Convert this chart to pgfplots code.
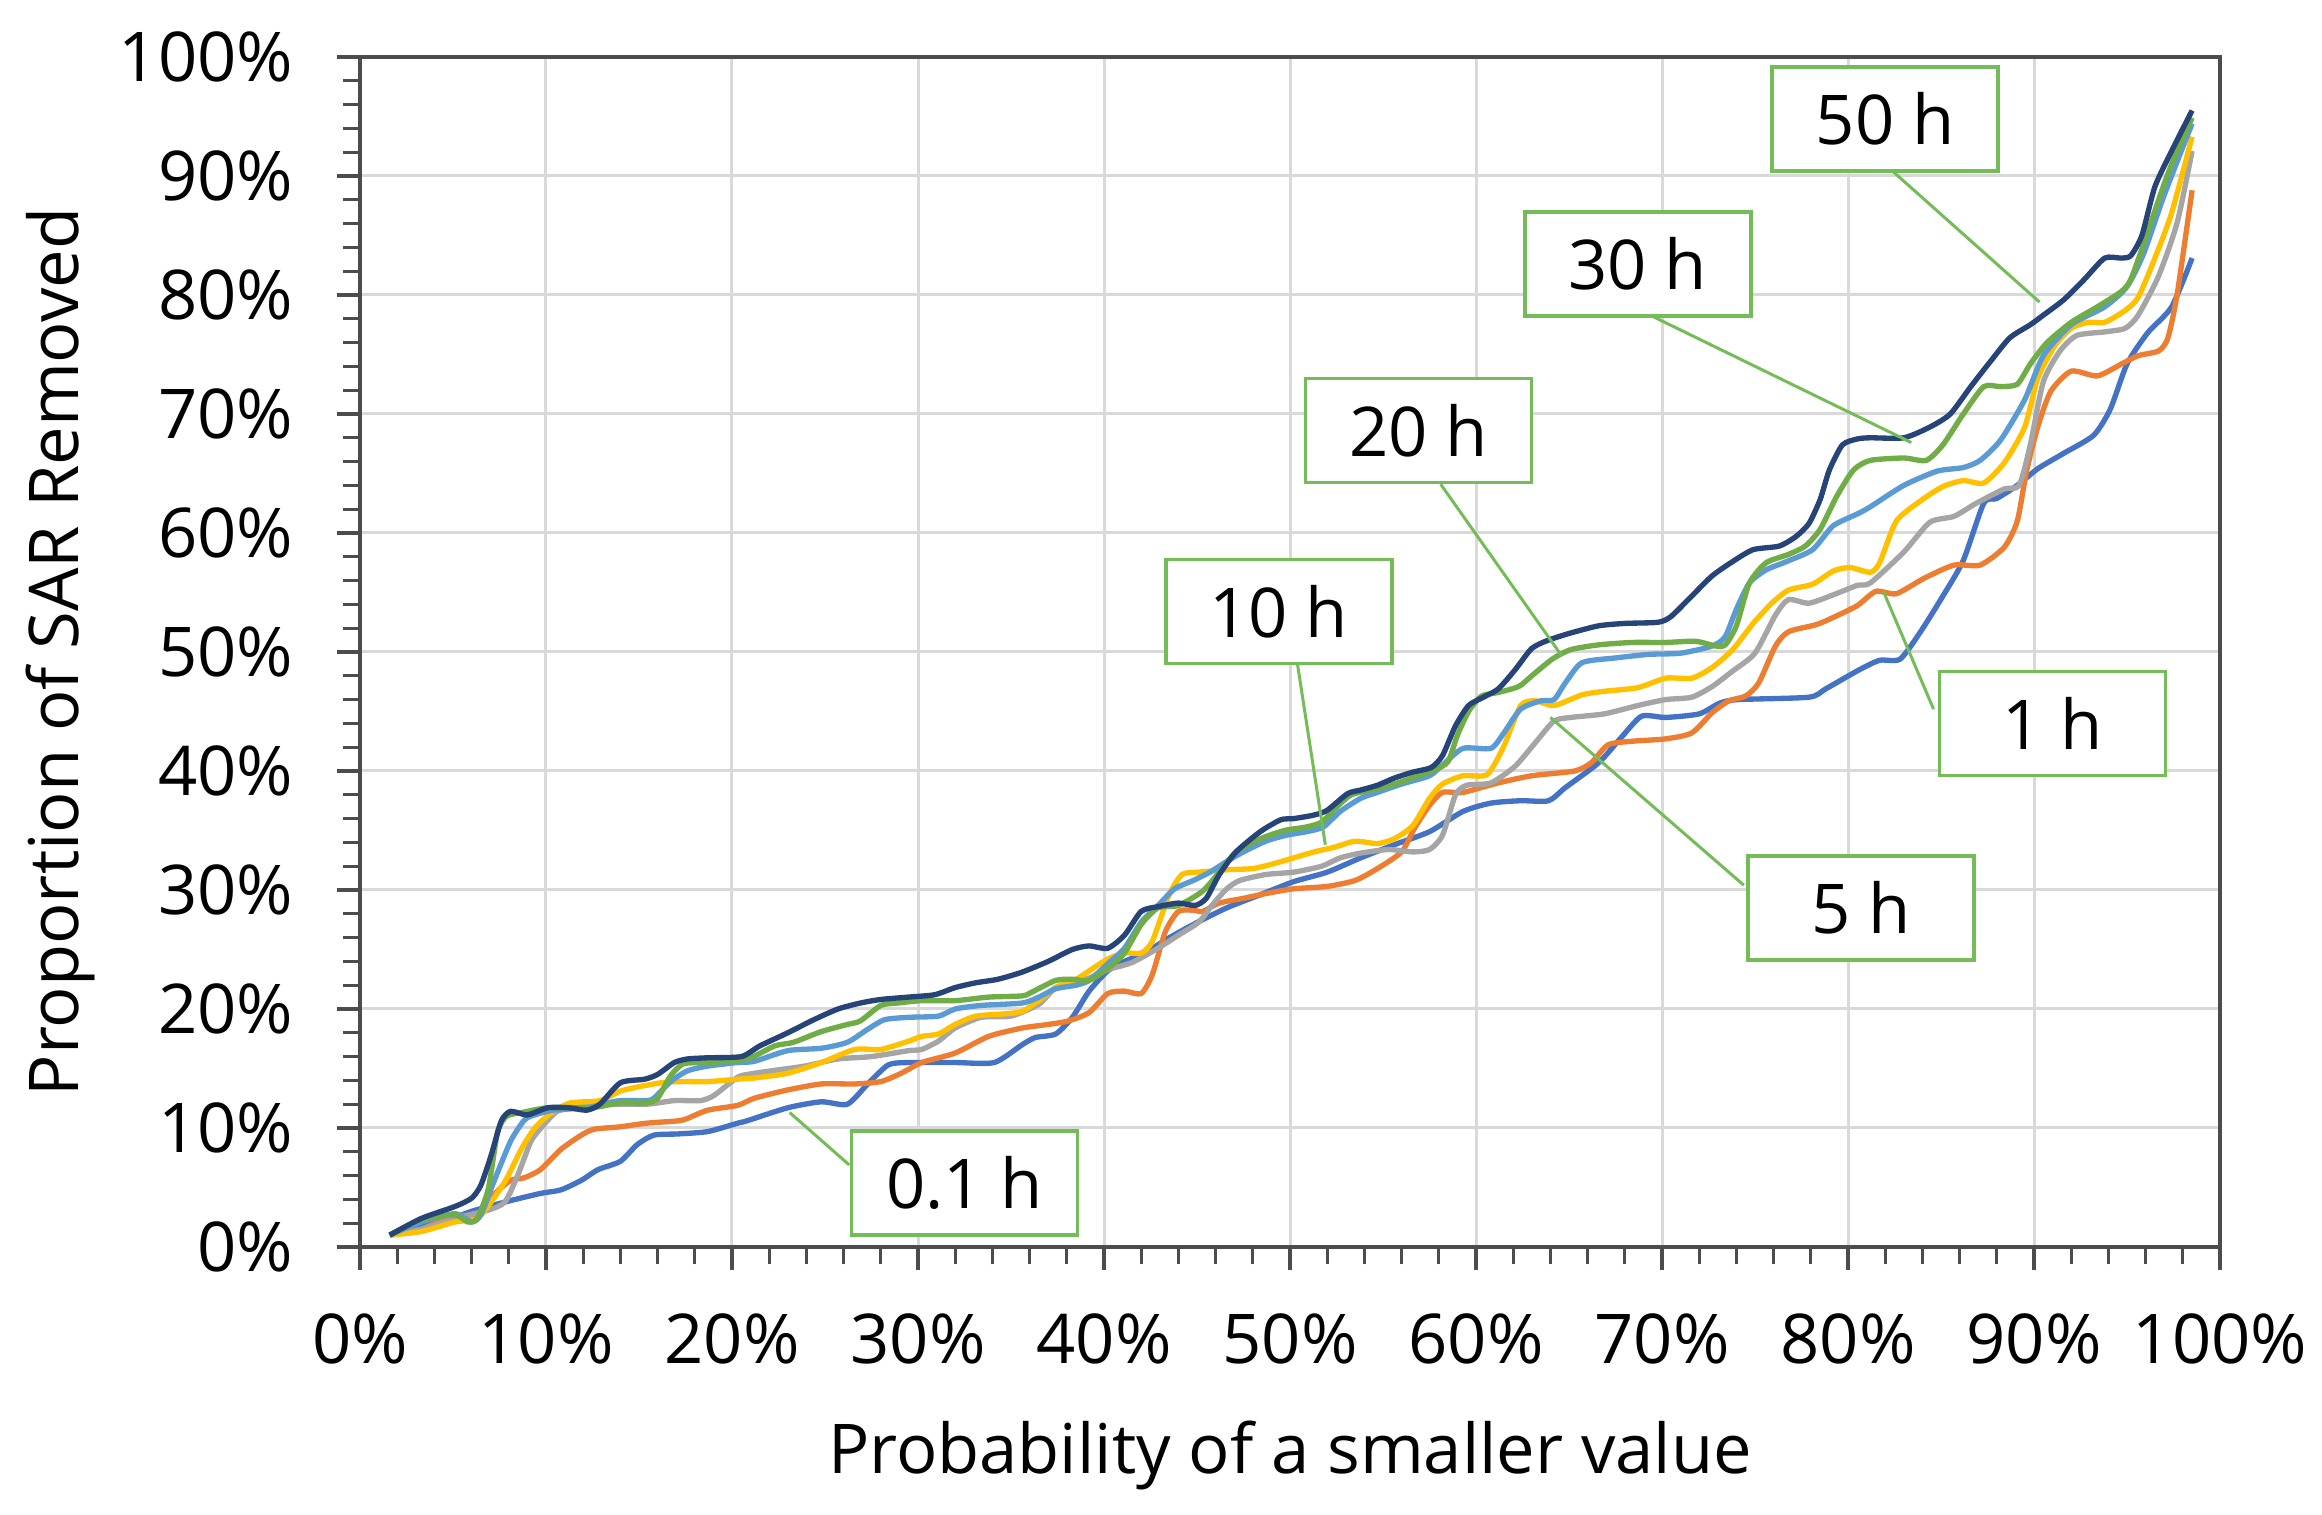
\documentclass[border=0pt]{standalone}
\usepackage{fontspec}
\setmainfont{Open Sans}
\usepackage{pgfplots}
\pgfplotsset{compat=1.18}

\definecolor{c01}{HTML}{4472C4}
\definecolor{c1}{HTML}{ED7D31}
\definecolor{c5}{HTML}{A5A5A5}
\definecolor{c10}{HTML}{FFC000}
\definecolor{c20}{HTML}{5B9BD5}
\definecolor{c30}{HTML}{70AD47}
\definecolor{c50}{HTML}{264478}
\definecolor{boxgreen}{HTML}{74BC58}

\newcommand{\lblfont}{\fontsize{10.3}{12}\selectfont}

\begin{document}
\begin{tikzpicture}
\begin{axis}[
  scale only axis,
  width=279pt, height=178.5pt,
  xmin=0, xmax=100, ymin=0, ymax=100,
  xtick={0,10,...,100}, ytick={0,10,...,100},
  xticklabels={0\%,10\%,20\%,30\%,40\%,50\%,60\%,70\%,80\%,90\%,100\%},
  yticklabels={0\%,10\%,20\%,30\%,40\%,50\%,60\%,70\%,80\%,90\%,100\%},
  minor tick num=4,
  tick align=outside, tick pos=left,
  major tick length=3.5pt, minor tick length=2.6pt,
  tick style={draw=black!70, line width=0.5pt},
  grid=major,
  major grid style={draw=black!15, line width=0.45pt},
  axis line style={draw=black!70, line width=0.6pt},
  ticklabel style={font=\lblfont},
  xticklabel style={yshift=-3pt},
  yticklabel style={xshift=-3pt},
  label style={font=\lblfont},
  xlabel={Probability of a smaller value},
  ylabel={Proportion of SAR Removed},
  xlabel style={at={(axis description cs:0.5,-0.175)}, anchor=center},
  ylabel style={at={(axis description cs:-0.161,0.5)}, anchor=center},
  every axis plot/.append style={line width=0.8pt, smooth, tension=0.4, no marks},
  clip=false,
]
% 0.1 h
\addplot[c01] table {
1.6 1.0
3.3 1.8
5.1 2.5
6.0 3.0
6.9 3.4
8.1 3.9
9.7 4.5
10.8 4.8
11.9 5.6
12.8 6.5
14.0 7.2
14.9 8.6
15.8 9.4
17.1 9.5
18.7 9.7
20.3 10.4
20.8 10.6
23.0 11.7
24.8 12.2
26.2 12.0
27.3 13.7
28.4 15.3
29.5 15.5
32.0 15.5
34.1 15.5
35.6 17.0
36.3 17.6
37.4 17.9
38.3 19.3
39.2 21.5
40.2 23.2
41.1 24.0
42.2 24.7
43.3 25.8
44.8 27.1
46.6 28.5
48.4 29.6
50.2 30.7
52.0 31.5
53.8 32.7
55.6 33.8
57.5 34.9
59.3 36.6
60.8 37.3
62.4 37.5
63.9 37.5
64.8 38.6
66.6 40.7
67.8 42.8
68.9 44.6
70.2 44.5
72.0 44.8
73.1 45.7
74.1 46.0
77.9 46.2
78.8 46.9
80.6 48.5
81.7 49.3
82.8 49.4
83.9 51.7
85.1 54.7
86.2 57.7
87.3 62.5
88.0 62.9
89.1 64.0
90.2 65.4
91.6 66.7
93.2 68.2
94.1 70.4
95.0 74.2
96.1 76.8
97.4 79.0
98.5 83.1
};
% 1 h
\addplot[c1] table {
1.6 1.0
3.3 1.5
5.1 2.7
6.2 2.4
7.2 4.4
8.1 5.6
8.8 5.8
9.7 6.5
10.8 8.2
11.9 9.4
12.6 9.9
14.0 10.1
15.4 10.4
17.1 10.6
17.6 10.8
18.7 11.5
20.3 11.9
21.2 12.5
23.0 13.2
24.8 13.7
26.6 13.7
28.0 13.9
29.1 14.6
30.2 15.5
32.0 16.3
33.8 17.7
35.6 18.4
37.0 18.7
38.1 19.0
39.2 19.7
40.2 21.3
41.1 21.5
42.0 21.3
42.6 22.9
43.3 26.5
44.0 28.2
44.8 28.3
45.3 28.2
46.2 28.9
47.5 29.3
48.7 29.7
50.2 30.1
52.0 30.3
53.5 30.8
54.7 31.8
56.0 33.2
56.7 35.2
57.5 37.1
58.2 38.2
59.3 38.2
61.2 39.0
63.0 39.6
65.3 40.0
66.2 40.7
67.1 42.2
68.4 42.5
70.2 42.7
71.6 43.2
72.7 44.9
73.6 45.9
74.5 46.3
75.2 47.4
76.1 50.5
76.8 51.7
78.3 52.3
79.2 52.9
80.5 53.9
81.5 55.1
82.6 54.9
84.1 56.2
85.7 57.3
87.1 57.3
88.4 58.8
89.1 61.0
89.6 65.2
90.2 68.9
90.9 71.9
92.0 73.6
93.4 73.2
94.7 74.2
95.6 74.9
96.7 75.3
97.2 76.4
97.7 80.1
98.5 88.8
};
% 5 h
\addplot[c5] table {
1.6 1.0
3.3 1.5
5.1 2.4
6.9 3.1
7.8 3.8
8.5 6.1
9.2 8.9
9.9 10.3
10.6 11.4
11.5 11.7
12.9 12.0
15.4 12.0
16.9 12.3
18.3 12.3
19.0 12.7
19.9 13.8
20.5 14.4
22.1 14.8
23.9 15.2
25.7 15.8
27.5 16.0
29.5 16.5
30.2 16.6
31.1 17.3
32.0 18.4
33.4 19.3
35.0 19.4
36.5 20.4
37.4 21.8
38.5 22.4
39.2 22.6
40.2 23.3
41.5 23.9
42.9 25.1
44.0 26.2
45.1 27.3
45.8 28.7
46.6 30.1
47.3 30.8
48.7 31.3
50.2 31.5
51.7 32.0
52.7 32.7
53.8 33.1
55.3 33.4
56.6 33.2
57.5 33.4
58.2 34.6
58.9 38.0
59.5 38.8
60.8 39.0
62.1 40.4
63.2 42.4
64.2 44.2
65.1 44.5
66.9 44.8
68.7 45.5
70.2 46.0
71.6 46.2
72.7 47.1
73.8 48.4
75.0 49.9
76.1 53.1
76.8 54.4
77.9 54.1
79.2 54.8
80.5 55.6
81.2 55.8
83.0 58.4
84.4 60.9
85.7 61.4
86.9 62.5
88.4 63.7
89.2 64.0
89.8 67.4
90.5 72.7
91.4 75.3
92.3 76.6
93.8 76.9
94.9 77.2
95.6 78.3
96.7 81.6
97.7 86.1
98.5 92.1
};
% 10 h
\addplot[c10] table {
1.6 1.0
3.3 1.3
5.1 2.1
6.3 2.4
7.2 4.1
7.9 5.8
8.7 8.3
9.4 10.0
10.3 11.3
11.3 12.1
12.9 12.3
14.0 13.1
15.1 13.5
16.2 13.8
17.2 13.9
18.7 13.9
20.3 14.1
21.2 14.2
23.0 14.6
24.8 15.5
26.6 16.6
28.0 16.6
29.5 17.3
30.2 17.7
31.1 17.9
32.0 18.7
33.1 19.4
34.7 19.6
35.6 19.8
36.5 20.7
37.4 21.8
38.5 22.5
39.2 23.2
40.2 24.2
41.1 24.7
42.0 24.7
42.6 25.7
43.5 29.6
44.2 31.3
45.1 31.5
46.6 31.7
48.0 31.8
49.1 32.2
50.2 32.7
51.3 33.2
52.4 33.6
53.5 34.1
54.7 33.9
55.6 34.3
56.6 35.4
57.5 37.7
58.2 38.9
59.3 39.6
60.6 39.7
61.5 42.1
62.4 45.5
63.2 45.9
64.2 45.5
65.7 46.4
66.9 46.7
68.7 47.0
70.2 47.8
71.6 47.8
72.7 48.7
73.8 50.2
74.9 52.4
75.9 54.1
76.8 55.2
78.1 55.7
79.2 56.8
80.1 57.1
81.2 56.7
81.7 57.5
82.6 61.0
83.9 62.7
85.1 63.9
86.2 64.4
87.3 64.2
88.4 65.9
89.5 68.9
90.2 73.0
91.1 75.7
92.0 77.2
92.9 77.7
93.8 77.7
94.9 78.7
95.6 79.8
96.5 83.1
97.4 86.9
98.5 93.3
};
% 20 h
\addplot[c20] table {
1.6 1.0
3.3 2.1
5.1 2.8
6.0 2.1
6.5 2.7
7.2 5.5
8.1 8.9
8.8 10.6
9.2 11.0
10.4 11.5
12.2 11.7
13.3 12.1
14.0 12.3
15.4 12.3
15.8 12.5
16.7 13.9
17.6 14.8
18.7 15.2
20.3 15.5
21.2 15.6
23.0 16.5
24.8 16.7
26.2 17.2
27.3 18.3
28.2 19.1
29.5 19.3
31.1 19.4
32.0 20.0
33.4 20.3
35.6 20.5
36.5 21.0
37.4 21.7
38.5 22.0
39.2 22.4
40.2 23.8
41.1 25.1
42.0 27.3
42.9 28.7
43.8 30.1
44.8 30.8
45.7 31.5
46.6 32.4
47.5 33.2
48.7 34.1
49.8 34.6
50.9 34.9
51.8 35.3
52.7 36.6
53.8 37.7
54.7 38.2
56.0 38.9
57.5 39.6
58.2 40.5
59.3 41.9
60.8 41.9
61.5 43.2
62.4 45.2
63.5 45.9
64.2 46.0
64.8 47.4
65.7 49.1
67.5 49.5
69.3 49.8
71.0 49.9
72.7 50.5
73.4 51.3
74.0 53.6
74.7 55.8
75.6 56.9
76.7 57.6
78.1 58.6
79.2 60.6
80.5 61.6
81.2 62.2
83.0 64.0
84.8 65.2
86.2 65.5
87.1 66.1
88.2 67.8
89.5 71.2
90.5 74.9
92.0 77.5
93.8 79.0
95.0 80.7
95.9 83.5
97.0 88.4
98.5 94.4
};
% 30 h
\addplot[c30] table {
1.6 1.0
3.3 2.3
5.1 2.7
5.8 2.1
6.3 2.4
6.9 4.9
7.4 9.7
7.9 11.0
8.7 11.3
10.1 11.7
12.2 11.7
12.9 11.8
14.0 12.1
15.4 12.1
16.0 12.5
16.7 14.4
17.4 15.4
18.7 15.5
20.8 15.8
22.3 16.9
23.3 17.2
24.8 18.1
26.2 18.7
26.9 19.0
28.0 20.3
28.9 20.5
30.2 20.7
32.0 20.7
33.8 21.0
35.6 21.1
36.1 21.4
37.4 22.4
38.3 22.5
39.2 22.4
40.2 23.4
41.1 24.7
42.0 27.1
42.9 28.5
44.0 28.7
45.3 29.9
46.2 31.5
47.1 33.2
48.4 34.3
49.7 35.0
50.9 35.3
51.7 35.7
52.4 36.8
53.3 38.0
54.7 38.5
56.0 39.1
56.9 39.6
57.8 40.1
58.5 40.8
59.0 43.0
59.6 45.0
60.3 46.3
61.2 46.6
62.3 47.1
63.0 48.0
64.1 49.4
65.1 50.2
66.6 50.6
68.4 50.8
70.2 50.8
71.8 50.9
72.9 50.5
73.4 50.6
74.0 52.2
74.7 55.8
75.6 57.5
76.8 58.2
77.7 58.9
78.5 60.3
79.4 63.1
80.3 65.3
81.2 66.1
83.0 66.3
84.2 66.1
85.1 67.4
86.2 70.0
87.3 72.3
88.2 72.3
89.1 72.5
89.8 74.2
90.7 76.0
92.0 77.7
93.4 79.0
94.7 80.3
95.2 81.3
95.9 84.3
96.7 88.0
97.4 91.0
98.5 94.9
};
% 50 h
\addplot[c50] table {
1.6 1.0
3.3 2.4
5.1 3.4
6.0 4.1
6.5 5.2
7.05 7.7
7.6 10.6
8.1 11.4
9.0 11.1
10.1 11.7
11.2 11.7
12.2 11.5
12.9 12.0
14.0 13.8
15.3 14.1
16.0 14.5
16.9 15.5
17.6 15.8
18.7 15.9
20.5 16.0
21.5 16.9
23.0 18.0
24.4 19.1
25.7 20.0
26.9 20.5
28.0 20.8
29.5 21.0
30.9 21.2
32.0 21.8
33.1 22.2
34.3 22.5
35.6 23.1
37.0 24.0
38.3 25.0
39.2 25.3
40.2 25.1
41.1 26.2
42.0 28.2
42.9 28.6
44.0 28.9
44.9 28.7
45.5 29.3
46.2 31.3
47.1 33.2
48.4 34.9
49.5 35.9
50.2 36.0
51.3 36.3
52.0 36.7
53.1 38.1
53.8 38.4
54.7 38.8
55.6 39.4
56.6 39.9
57.6 40.3
58.2 41.3
58.9 43.8
59.6 45.5
60.4 46.2
61.2 46.9
62.1 48.5
63.0 50.3
63.9 51.0
65.1 51.6
66.6 52.2
68.0 52.4
69.8 52.5
70.5 53.0
71.6 54.7
72.7 56.4
73.8 57.6
74.9 58.6
76.3 58.9
77.2 59.7
77.9 60.8
78.5 62.8
79.0 65.3
79.7 67.4
80.5 67.9
81.2 68.0
83.0 68.0
84.4 68.9
85.5 70.0
86.6 72.3
87.7 74.5
88.7 76.4
89.8 77.5
90.5 78.3
91.6 79.6
92.7 81.3
93.8 83.1
94.7 83.1
95.2 83.3
95.8 85.0
96.5 89.1
97.4 92.1
98.5 95.5
};
% callouts
\begin{scope}[every node/.style={draw=boxgreen, line width=0.55pt, fill=white,
    minimum width=33.9pt, minimum height=15.6pt, inner sep=0pt, font=\lblfont}]
\draw[boxgreen, line width=0.45pt] (axis cs:82.4,90.4) -- (axis cs:90.3,79.4);
\draw[boxgreen, line width=0.45pt] (axis cs:69.5,78.2) -- (axis cs:83.4,67.6);
\draw[boxgreen, line width=0.45pt] (axis cs:58.1,64.1) -- (axis cs:64.6,49.7);
\draw[boxgreen, line width=0.45pt] (axis cs:50.4,49.0) -- (axis cs:51.9,33.8);
\draw[boxgreen, line width=0.45pt] (axis cs:74.4,30.4) -- (axis cs:64.0,44.5);
\draw[boxgreen, line width=0.45pt] (axis cs:84.6,45.2) -- (axis cs:81.9,55.1);
\draw[boxgreen, line width=0.45pt] (axis cs:26.3,6.9) -- (axis cs:23.1,11.3);
\node at (axis cs:82.0,94.8) {50 h};
\node at (axis cs:68.7,82.6) {30 h};
\node at (axis cs:56.9,68.6) {20 h};
\node at (axis cs:49.4,53.4) {10 h};
\node at (axis cs:80.7,28.5) {5 h};
\node at (axis cs:91.0,44.0) {1 h};
\node at (axis cs:32.5,5.4) {0.1 h};
\end{scope}
\end{axis}
\pgfresetboundingbox
\path (current axis.south west) ++(-54pt,-40.2pt) rectangle ([shift={(15.3pt,8.55pt)}]current axis.north east);
\end{tikzpicture}
\end{document}
